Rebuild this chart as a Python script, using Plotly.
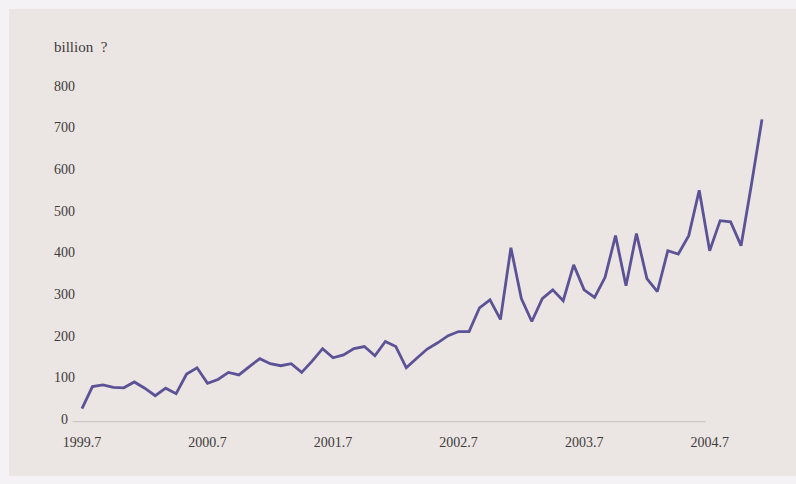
import plotly.graph_objects as go

# Monthly series, July 1999 through December 2004
months = [f"{y}.{m}" for y in range(1999, 2005) for m in range(1, 13)
          if not (y == 1999 and m < 7)]
values = [26, 79, 83, 77, 76, 90, 75, 57, 75, 62, 109, 124,
          87, 96, 113, 107, 127, 146, 134, 129, 134, 113, 140, 170,
          148, 155, 170, 175, 153, 187, 175, 124, 147, 169, 184, 201,
          211, 211, 268, 287, 240, 412, 290, 235, 290, 311, 285, 371,
          311, 293, 341, 441, 321, 446, 338, 307, 405, 397, 441, 550,
          405, 477, 474, 417, 565, 720]

x_ticks = ["1999.7", "2000.7", "2001.7", "2002.7", "2003.7", "2004.7"]
y_ticks = [0, 100, 200, 300, 400, 500, 600, 700, 800]
unit_label = "billion\u00a0\u00a0?"

W, H = 796, 484
ML, MR, MT, MB = 60, 20, 60, 52
FONT = "Liberation Serif, Times New Roman, serif"
TXT = "#3f3b3b"
LINE = "#5c5296"

pw = W - ML - MR
ph = H - MT - MB

# vertical scale: 0 at 419.5 px, 800 at 86 px from the top
k = (419.5 - 86) / 800.0
y_top = 800 + (86 - MT) / k
y_bot = -((H - MB) - 419.5) / k

idx = list(range(len(months)))
pos = {m: i for i, m in enumerate(months)}

fig = go.Figure()
fig.add_trace(go.Scatter(
    x=idx, y=values, mode="lines",
    line=dict(color=LINE, width=2.8, shape="linear"),
    hoverinfo="skip", showlegend=False,
))

# background panel, slightly darker than the page edge
fig.add_shape(type="rect", xref="paper", yref="paper",
              x0=(9 - ML) / pw, x1=(W - ML + 2) / pw,
              y0=((H - MB) - 476) / ph, y1=((H - MB) - 9) / ph,
              fillcolor="#ebe5e3", line=dict(width=0), layer="below")

# baseline
fig.add_shape(type="line", xref="x", yref="y",
              x0=-0.9, x1=59.6, y0=-5, y1=-5,
              line=dict(color="#cdc8c8", width=1.2), layer="below")

# y tick labels, centred in a column left of the plot
for v in y_ticks:
    fig.add_annotation(x=-1.65, xref="x", y=v, yref="y", text=str(v),
                       showarrow=False, xanchor="center", yanchor="middle",
                       font=dict(family=FONT, size=14, color=TXT))

fig.add_annotation(x=-1.65, xref="x", y=800, yref="y", text=unit_label,
                   showarrow=False, xanchor="left", yanchor="middle",
                   xshift=-13, yshift=39,
                   font=dict(family=FONT, size=15, color=TXT))

fig.update_layout(
    width=W, height=H,
    margin=dict(l=ML, r=MR, t=MT, b=MB),
    paper_bgcolor="#f4f2f5",
    plot_bgcolor="rgba(0,0,0,0)",
    xaxis=dict(
        range=[-2.10, 66.34],
        tickmode="array",
        tickvals=[pos[t] for t in x_ticks],
        ticktext=x_ticks,
        showgrid=False, zeroline=False, showline=False, ticks="",
        tickfont=dict(family=FONT, size=14, color=TXT),
        ticklabelstandoff=0,
    ),
    yaxis=dict(
        range=[y_bot, y_top],
        showgrid=False, zeroline=False, showline=False,
        showticklabels=False, ticks="",
    ),
)

fig.write_html("out.html")
